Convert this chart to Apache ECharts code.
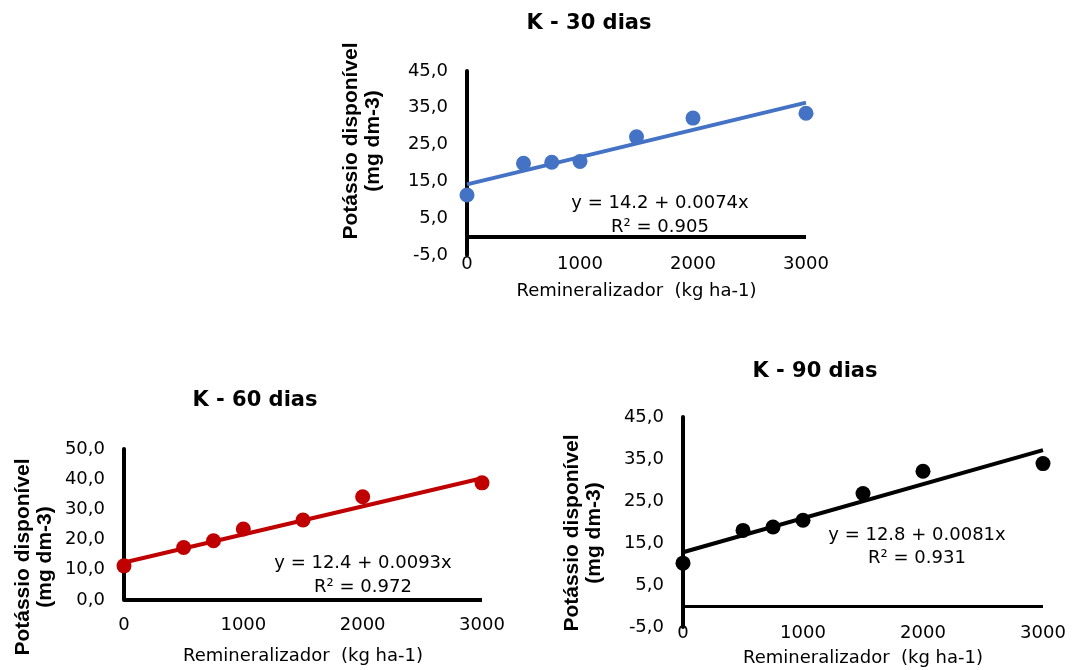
<!DOCTYPE html>
<html>
<head>
<meta charset="utf-8">
<script src="https://cdn.jsdelivr.net/npm/echarts@6/dist/echarts.min.js"></script>
<style>
  html, body { margin: 0; padding: 0; background: #fff; }
  #chart { width: 1084px; height: 670px; }
</style>
</head>
<body>
<div id="chart"></div>
<script>
// ---------- data ----------
const doses = [0, 500, 750, 1000, 1500, 2000, 3000];
const k30 = [11.3, 19.9, 20.2, 20.4, 27.1, 32.2, 33.5];
const k60 = [11.3, 17.4, 19.6, 23.5, 26.5, 34.2, 38.8];
const k90 = [10.2, 18.0, 18.8, 20.4, 26.8, 32.1, 33.9];

const trendX = [0, 3000];
const trend30 = [14.2, 36.4];
const trend60 = [12.4, 40.3];
const trend90 = [12.8, 37.1];

const xTicks = [0, 1000, 2000, 3000];
const yTicks30 = [-5, 5, 15, 25, 35, 45];
const yTicks60 = [0, 10, 20, 30, 40, 50];
const yTicks90 = [-5, 5, 15, 25, 35, 45];

const titles = ['K - 30 dias', 'K - 60 dias', 'K - 90 dias'];
const equations = ['y = 14.2 + 0.0074x\nR² = 0.905', 'y = 12.4 + 0.0093x\nR² = 0.972', 'y = 12.8 + 0.0081x\nR² = 0.931'];
const xName = 'Remineralizador  (kg ha-1)';
const yName = 'Potássio disponível\n(mg dm-3)';

// ---------- layout ----------
const panels = [
  { grid: {left: 467, top: 71, width: 339, height: 184}, ticks: yTicks30, vals: k30, trend: trend30, color: '#4472C4',
    labelMargin: 0, nameGap: 27, title: [589, 24], eq: [660, 215], eqLH: 24, yname: [362, 141], zeroW: 4 },
  { grid: {left: 124, top: 449, width: 358, height: 151}, ticks: yTicks60, vals: k60, trend: trend60, color: '#C00000',
    labelMargin: 16, nameGap: 47, title: [255, 401], eq: [363, 575], eqLH: 24, yname: [34, 557], zeroW: 4 },
  { grid: {left: 683, top: 417, width: 360, height: 210}, ticks: yTicks90, vals: k90, trend: trend90, color: '#000000',
    labelMargin: -3, nameGap: 22, title: [815, 372], eq: [917, 547], eqLH: 23, yname: [583, 533], zeroW: 3 }
];

const tickFont = 'DejaVu Sans';
const fmt = v => v.toFixed(1).replace('.', ',');

const option = {
  backgroundColor: '#fff',
  animation: false,
  grid: [], xAxis: [], yAxis: [], series: [], graphic: []
};

panels.forEach((p, i) => {
  option.grid.push(Object.assign({ outerBoundsMode: 'none', containLabel: false }, p.grid));
  option.xAxis.push({
    type: 'value', gridIndex: i, min: xTicks[0], max: xTicks[xTicks.length - 1],
    axisLine: { show: false, onZero: false },
    axisTick: { show: false },
    splitLine: { show: false },
    axisLabel: { color: '#000', fontFamily: tickFont, fontSize: 18, margin: p.labelMargin,
      customValues: xTicks, formatter: v => String(v) },
    name: xName, nameLocation: 'middle', nameGap: p.nameGap,
    nameTextStyle: { color: '#000', fontFamily: tickFont, fontSize: 18 }
  });
  option.yAxis.push({
    type: 'value', gridIndex: i, min: p.ticks[0], max: p.ticks[p.ticks.length - 1],
    axisLine: { show: true, onZero: false, lineStyle: { color: '#000', width: 4 } },
    axisTick: { show: false },
    splitLine: { show: false },
    axisLabel: { color: '#000', fontFamily: tickFont, fontSize: 18, margin: 19,
      customValues: p.ticks, formatter: fmt }
  });
  option.series.push({
    type: 'line', xAxisIndex: i, yAxisIndex: i,
    data: trendX.map((x, j) => [x, p.trend[j]]),
    symbol: 'none', lineStyle: { color: p.color, width: 4 }, silent: true, z: 3
  });
  option.series.push({
    type: 'scatter', xAxisIndex: i, yAxisIndex: i,
    data: doses.map((x, j) => [x, p.vals[j]]),
    symbol: 'circle', symbolSize: 15, itemStyle: { color: p.color, opacity: 1 }, z: 4,
    markLine: {
      silent: true, symbol: ['none', 'none'], label: { show: false },
      lineStyle: { color: '#000', width: p.zeroW, type: 'solid' },
      data: [{ yAxis: 0 }]
    }
  });
  option.graphic.push({
    type: 'text', x: p.title[0], y: p.title[1], silent: true,
    style: { text: titles[i], fill: '#000', font: 'bold 21px "DejaVu Sans"',
      align: 'center', verticalAlign: 'middle', textAlign: 'center', textVerticalAlign: 'middle' }
  });
  option.graphic.push({
    type: 'text', x: p.eq[0], y: p.eq[1], silent: true,
    style: { text: equations[i], fill: '#000', font: '18px "DejaVu Sans"', lineHeight: p.eqLH,
      align: 'center', verticalAlign: 'middle', textAlign: 'center', textVerticalAlign: 'middle' }
  });
  option.graphic.push({
    type: 'text', x: p.yname[0], y: p.yname[1], rotation: Math.PI / 2, silent: true,
    style: { text: yName, fill: '#000', font: 'bold 21px "Liberation Sans"', lineHeight: 22,
      align: 'center', verticalAlign: 'middle', textAlign: 'center', textVerticalAlign: 'middle' }
  });
});

const chart = echarts.init(document.getElementById('chart'), null, { renderer: 'canvas' });
chart.setOption(option);
</script>
</body>
</html>
